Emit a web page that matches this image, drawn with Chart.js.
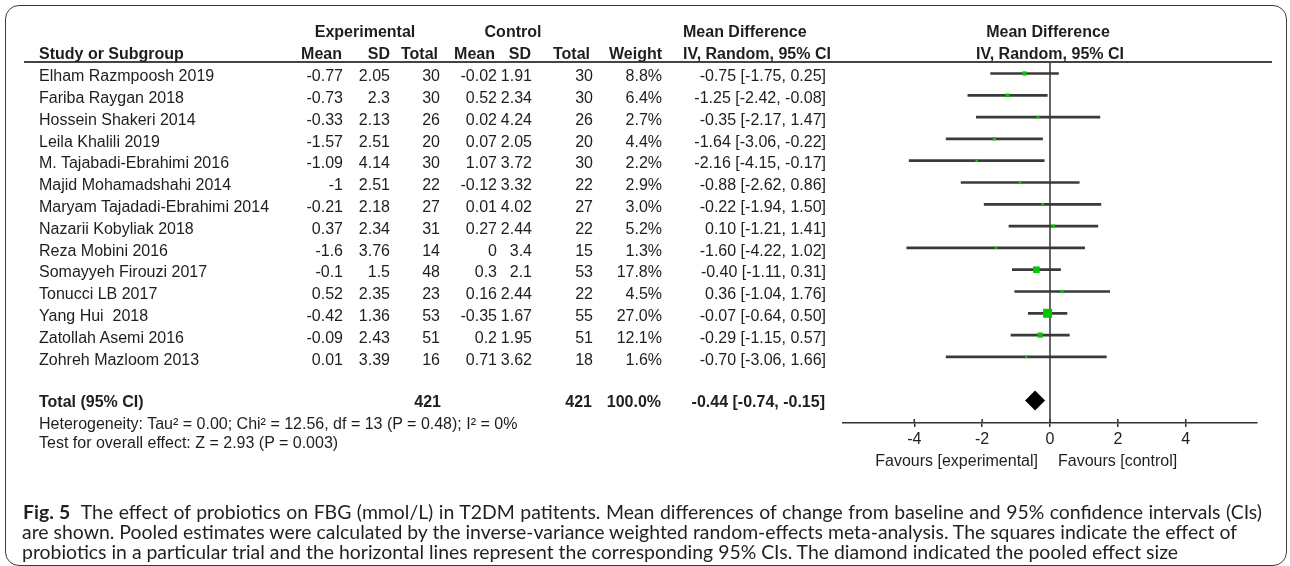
<!DOCTYPE html>
<html><head><meta charset="utf-8">
<script src="https://cdn.jsdelivr.net/npm/chart.js@4.4.1/dist/chart.umd.min.js"></script>
<style>
html,body{margin:0;padding:0;background:#fff;}
#wrap{position:relative;width:1290px;height:566px;overflow:hidden;background:#fff;}
#c{position:absolute;left:0;top:0;}
#frame{position:absolute;left:5px;top:5px;width:1282px;height:561px;border:1.5px solid #3a3a3a;border-radius:14px;box-sizing:border-box;}
#rule{position:absolute;left:24px;width:1248px;top:60.7px;height:2px;background:#444;}
.t{position:absolute;font-family:"Liberation Sans",Arial,sans-serif;font-size:16px;line-height:18px;color:#1e1e1e;white-space:pre;}
.b{font-weight:bold;}
.cap{position:absolute;left:22px;font-family:Lato,sans-serif;color:#231f20;white-space:pre;line-height:20px;}
.cap b{font-weight:bold;}
</style></head><body>
<div id="wrap">
<canvas id="c" width="1290" height="566"></canvas>
<div id="frame"></div>
<div id="rule"></div>
<div id="texts"></div>
</div>
<script>
// ---------- data ----------
const studyNames = ["Elham Razmpoosh 2019","Fariba Raygan 2018","Hossein Shakeri 2014","Leila Khalili 2019","M. Tajabadi-Ebrahimi 2016","Majid Mohamadshahi 2014","Maryam Tajadadi-Ebrahimi 2014","Nazarii Kobyliak 2018","Reza Mobini 2016","Somayyeh Firouzi 2017","Tonucci LB 2017","Yang Hui  2018","Zatollah Asemi 2016","Zohreh Mazloom 2013"];
const expMean = [-0.77,-0.73,-0.33,-1.57,-1.09,-1,-0.21,0.37,-1.6,-0.1,0.52,-0.42,-0.09,0.01];
const expSD = [2.05,2.3,2.13,2.51,4.14,2.51,2.18,2.34,3.76,1.5,2.35,1.36,2.43,3.39];
const expTotal = [30,30,26,20,30,22,27,31,14,48,23,53,51,16];
const ctrlMean = [-0.02,0.52,0.02,0.07,1.07,-0.12,0.01,0.27,0,0.3,0.16,-0.35,0.2,0.71];
const ctrlSD = [1.91,2.34,4.24,2.05,3.72,3.32,4.02,2.44,3.4,2.1,2.44,1.67,1.95,3.62];
const ctrlTotal = [30,30,26,20,30,22,27,22,15,53,22,55,51,18];
const weightPct = [8.8,6.4,2.7,4.4,2.2,2.9,3.0,5.2,1.3,17.8,4.5,27.0,12.1,1.6];
const mdEst = [-0.75,-1.25,-0.35,-1.64,-2.16,-0.88,-0.22,0.10,-1.60,-0.40,0.36,-0.07,-0.29,-0.70];
const mdLow = [-1.75,-2.42,-2.17,-3.06,-4.15,-2.62,-1.94,-1.21,-4.22,-1.11,-1.04,-0.64,-1.15,-3.06];
const mdHigh = [0.25,-0.08,1.47,-0.22,-0.17,0.86,1.50,1.41,1.02,0.31,1.76,0.50,0.57,1.66];
const totalExp = 421;
const totalCtrl = 421;
const totalWeight = 100.0;
const totalEst = -0.44;
const totalLow = -0.74;
const totalHigh = -0.15;
const xTickValues = [-4,-2,0,2,4];
const heterogeneityText = "Heterogeneity: Tau\u00B2 = 0.00; Chi\u00B2 = 12.56, df = 13 (P = 0.48); I\u00B2 = 0%";
const overallText = "Test for overall effect: Z = 2.93 (P = 0.003)";
const favoursLeft = "Favours [experimental]";
const favoursRight = "Favours [control]";
const captionLabel = "Fig. 5";
const captionLines = [
  "The effect of probiotics on FBG (mmol/L) in T2DM patitents. Mean differences of change from baseline and 95% confidence intervals (CIs)",
  "are shown. Pooled estimates were calculated by the inverse-variance weighted random-effects meta-analysis. The squares indicate the effect of",
  "probiotics in a particular trial and the horizontal lines represent the corresponding 95% CIs. The diamond indicated the pooled effect size"
];

// ---------- layout ----------
const W = 1290, H = 566;
const rowBase0 = 81.7, rowStep = 21.8;
const totalRow = studyNames.length + 1;
const fmtCI = (e,l,h) => `${e.toFixed(2)} [${l.toFixed(2)}, ${h.toFixed(2)}]`;
const host = document.getElementById('texts');
function txt(s, x, baseline, align, bold) {
  const d = document.createElement('div');
  d.className = 't' + (bold ? ' b' : '');
  d.textContent = s;
  d.style.top = (baseline - 14.5) + 'px';
  if (align === 'right') { d.style.right = (W - x) + 'px'; }
  else if (align === 'center') { d.style.left = (x - 300) + 'px'; d.style.width = '600px'; d.style.textAlign = 'center'; }
  else { d.style.left = x + 'px'; }
  host.appendChild(d);
}
const col = {name:39, eM:343, eSD:390, eN:440, cM:497, cSD:532, cN:593, w:662, ci:826};
// headers
txt("Experimental", 365, 37.5, 'center', true);
txt("Control", 513, 37.5, 'center', true);
txt("Mean Difference", 683, 37.5, 'left', true);
txt("Mean Difference", 1048, 37.5, 'center', true);
txt("Study or Subgroup", col.name, 59, 'left', true);
txt("Mean", 342, 59, 'right', true);
txt("SD", 390, 59, 'right', true);
txt("Total", 438, 59, 'right', true);
txt("Mean", 495, 59, 'right', true);
txt("SD", 531, 59, 'right', true);
txt("Total", 590, 59, 'right', true);
txt("Weight", 662, 59, 'right', true);
txt("IV, Random, 95% CI", 683, 59, 'left', true);
txt("IV, Random, 95% CI", 1050, 59, 'center', true);
// rows
studyNames.forEach((n, i) => {
  const b = rowBase0 + rowStep * i;
  txt(n, col.name, b, 'left');
  txt(String(expMean[i]), col.eM, b, 'right');
  txt(String(expSD[i]), col.eSD, b, 'right');
  txt(String(expTotal[i]), col.eN, b, 'right');
  txt(String(ctrlMean[i]), col.cM, b, 'right');
  txt(String(ctrlSD[i]), col.cSD, b, 'right');
  txt(String(ctrlTotal[i]), col.cN, b, 'right');
  txt(weightPct[i].toFixed(1) + '%', col.w, b, 'right');
  txt(fmtCI(mdEst[i], mdLow[i], mdHigh[i]), col.ci, b, 'right');
});
// totals
txt("Total (95% CI)", col.name, 407, 'left', true);
txt(String(totalExp), col.eN + 1, 407, 'right', true);
txt(String(totalCtrl), col.cN - 1, 407, 'right', true);
txt(totalWeight.toFixed(1) + '%', col.w - 1, 407, 'right', true);
txt(fmtCI(totalEst, totalLow, totalHigh), col.ci - 1, 407, 'right', true);
txt(heterogeneityText, col.name, 429, 'left');
txt(overallText, col.name, 448, 'left');
txt(favoursLeft, 1038, 466, 'right');
txt(favoursRight, 1058, 466, 'left');

// caption
const capTops = [502, 522, 542];
const capLefts = [23, 22, 22];
const capRights = [1262, 1237, 1178];
const capEls = captionLines.map((line, i) => {
  const d = document.createElement('div');
  d.className = 'cap';
  d.style.top = capTops[i] + 'px';
  d.style.left = capLefts[i] + 'px';
  d.style.fontSize = '17px';
  if (i === 0) {
    const b = document.createElement('b'); b.textContent = captionLabel + '  ';
    d.appendChild(b);
    d.appendChild(document.createTextNode(line));
  } else d.textContent = line;
  host.appendChild(d);
  return d;
});
// fit caption size on the second line, then justify each line with word spacing
const w0 = capEls[1].getBoundingClientRect().width;
const fs = 17 * (capRights[1] - capLefts[1]) / w0;
capEls.forEach((e, i) => {
  e.style.fontSize = fs.toFixed(2) + 'px';
  const w = e.getBoundingClientRect().width;
  const spaces = (e.textContent.match(/ /g) || []).length;
  e.style.wordSpacing = (((capRights[i] - capLefts[i]) - w) / spaces).toFixed(3) + 'px';
});

// ---------- chart ----------
const yMin = -0.5275, yMax = 16.032;
const squareSide = w => 2 + 0.26 * w;
const extras = {
  id: 'extras',
  beforeDatasetsDraw(chart) {
    const {ctx, chartArea, scales: {x}} = chart;
    const px = x.getPixelForValue(0);
    ctx.save();
    ctx.strokeStyle = '#333';
    ctx.lineWidth = 1.5;
    ctx.beginPath(); ctx.moveTo(px, chartArea.top); ctx.lineTo(px, chartArea.bottom); ctx.stroke();
    x.ticks.forEach(t => {
      const p = x.getPixelForValue(t.value);
      ctx.beginPath(); ctx.moveTo(p, chartArea.bottom - 4); ctx.lineTo(p, chartArea.bottom); ctx.stroke();
    });
    ctx.restore();
  }
};
new Chart(document.getElementById('c'), {
  type: 'scatter',
  data: {
    datasets: [
      {
        type: 'bar', indexAxis: 'y', label: 'CI',
        data: studyNames.map((n, i) => ({y: i, x: [mdLow[i], mdHigh[i]]})),
        backgroundColor: '#3a3a3a', borderWidth: 0, barThickness: 2, order: 2
      },
      {
        type: 'scatter', label: 'MD',
        data: studyNames.map((n, i) => ({x: mdEst[i], y: i})),
        pointStyle: 'rect',
        pointRadius: weightPct.map(w => squareSide(w) / Math.SQRT2),
        pointHoverRadius: weightPct.map(w => squareSide(w) / Math.SQRT2),
        backgroundColor: '#00c800', borderWidth: 0, order: 1
      },
      {
        type: 'scatter', label: 'Total',
        data: [{x: totalEst, y: totalRow}],
        pointStyle: 'rectRot',
        pointRadius: ctx => { const s = ctx.chart.scales.x; return (s.getPixelForValue(totalHigh) - s.getPixelForValue(totalLow)) / 2; },
        backgroundColor: '#000', borderWidth: 0, order: 0
      }
    ]
  },
  options: {
    responsive: false, animation: false, devicePixelRatio: 1,
    layout: {padding: {left: 843, right: 33, top: 62, bottom: 103}},
    plugins: {legend: {display: false}, tooltip: {enabled: false}},
    scales: {
      x: {
        type: 'linear', min: -6.1, max: 6.1, offset: false,
        afterBuildTicks: s => { s.ticks = xTickValues.map(v => ({value: v})); },
        afterFit: s => { s.height = 40; },
        grid: {drawOnChartArea: false, drawTicks: true, tickLength: 4, color: '#333', lineWidth: 1.5, offset: false},
        border: {display: true, color: '#333', width: 1.5},
        ticks: {font: {family: '"Liberation Sans", Arial, sans-serif', size: 16}, color: '#1e1e1e', padding: 3, maxRotation: 0, autoSkip: false}
      },
      y: {type: 'linear', display: false, min: yMin, max: yMax, reverse: true, offset: false, grid: {offset: false}}
    }
  },
  plugins: [extras]
});
</script>
</body></html>
